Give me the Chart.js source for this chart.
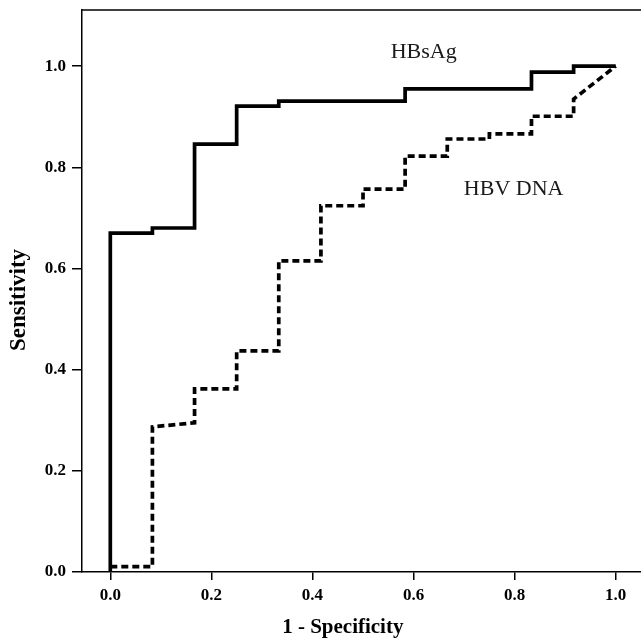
<!DOCTYPE html>
<html>
<head>
<meta charset="utf-8">
<script src="https://cdn.jsdelivr.net/npm/chart.js@4"></script>
<style>
    html, body { margin: 0; padding: 0; background: #fff; }
    #wrap { width: 641px; height: 640px; }
</style>
</head>
<body>
<div id="wrap"><canvas id="rocChart"></canvas></div>
<script>
// ROC curve data (1 - specificity vs sensitivity)
const hbsagFpr = [0, 0, 0.0833, 0.0833, 0.1667, 0.1667, 0.25, 0.25, 0.3333, 0.3333, 0.5833, 0.5833, 0.8333, 0.8333, 0.9167, 0.9167, 1.0];
const hbsagTpr = [0, 0.670, 0.670, 0.680, 0.680, 0.846, 0.846, 0.921, 0.921, 0.931, 0.931, 0.955, 0.955, 0.988, 0.988, 1.0, 1.0];

const hbvFpr = [0, 0.0833, 0.0833, 0.1667, 0.1667, 0.25, 0.25, 0.3333, 0.3333, 0.4167, 0.4167, 0.5, 0.5, 0.5833, 0.5833, 0.6667, 0.6667, 0.75, 0.75, 0.8333, 0.8333, 0.9167, 0.9167, 1.0];
const hbvTpr = [0.0105, 0.0105, 0.287, 0.295, 0.362, 0.362, 0.437, 0.437, 0.615, 0.615, 0.724, 0.724, 0.757, 0.757, 0.822, 0.822, 0.856, 0.856, 0.866, 0.866, 0.901, 0.901, 0.935, 1.0];

const xTicks = [0, 0.2, 0.4, 0.6, 0.8, 1.0];
const yTicks = [0, 0.2, 0.4, 0.6, 0.8, 1.0];

const seriesLabels = ['HBsAg', 'HBV DNA'];
// where each curve's name is written, in data units
const labelSpots = [{ x: 0.62, y: 1.016 }, { x: 0.798, y: 0.745 }];

const xTitle = '1 - Specificity';
const yTitle = 'Sensitivity';

const serif = "'Liberation Serif', 'Times New Roman', serif";

function toPoints(xs, ys) {
    return xs.map((x, i) => ({ x: x, y: ys[i] }));
}

// box line along the top of the plot area
const topLine = {
    id: 'topLine',
    afterDraw(chart) {
        const { ctx, chartArea } = chart;
        ctx.save();
        ctx.strokeStyle = '#000';
        ctx.lineWidth = 1.5;
        ctx.beginPath();
        ctx.moveTo(chartArea.left, chartArea.top);
        ctx.lineTo(chartArea.right, chartArea.top);
        ctx.stroke();
        ctx.restore();
    }
};

// curve names and axis titles
const chartText = {
    id: 'chartText',
    afterDatasetsDraw(chart) {
        const { ctx, scales, chartArea } = chart;
        ctx.save();
        ctx.fillStyle = '#1a1a1a';
        ctx.font = '22px ' + serif;
        ctx.textAlign = 'center';
        ctx.textBaseline = 'alphabetic';
        seriesLabels.forEach((name, i) => {
            const px = scales.x.getPixelForValue(labelSpots[i].x);
            const py = scales.y.getPixelForValue(labelSpots[i].y);
            ctx.fillText(name, px, py);
        });

        ctx.fillStyle = '#000';
        ctx.font = 'bold 21px ' + serif;
        ctx.textBaseline = 'middle';
        ctx.fillText(xTitle, scales.x.getPixelForValue(0.46), 628);

        ctx.translate(19, (chartArea.top + chartArea.bottom) / 2 + 9);
        ctx.rotate(-Math.PI / 2);
        ctx.font = 'bold 23px ' + serif;
        ctx.fillText(yTitle, 0, 0);
        ctx.restore();
    }
};

new Chart(document.getElementById('rocChart'), {
    type: 'scatter',
    data: {
        datasets: [
            {
                label: seriesLabels[0],
                data: toPoints(hbsagFpr, hbsagTpr),
                showLine: true,
                borderColor: '#000',
                borderWidth: 3.7,
                pointRadius: 0,
                fill: false
            },
            {
                label: seriesLabels[1],
                data: toPoints(hbvFpr, hbvTpr),
                showLine: true,
                borderColor: '#000',
                borderWidth: 3.7,
                borderDash: [7, 4],
                pointRadius: 0,
                fill: false
            }
        ]
    },
    options: {
        responsive: true,
        maintainAspectRatio: false,
        animation: false,
        layout: { padding: { top: 10, right: 0, bottom: 0, left: 0 } },
        plugins: {
            legend: { display: false },
            tooltip: { enabled: false }
        },
        scales: {
            x: {
                type: 'linear',
                min: -0.056,
                max: 1.05,
                afterBuildTicks: s => { s.ticks = xTicks.map(v => ({ value: v })); },
                afterFit: s => { s.height = 68; s.paddingLeft = 0; s.paddingRight = 0; },
                grid: { drawOnChartArea: false, drawTicks: true, tickLength: 8, color: '#000', lineWidth: 1.5 },
                border: { display: true, color: '#000', width: 1.5 },
                ticks: {
                    color: '#000',
                    padding: 5,
                    maxRotation: 0,
                    font: { family: serif, size: 17, weight: 'bold' },
                    callback: v => Number(v).toFixed(1)
                }
            },
            y: {
                type: 'linear',
                min: 0,
                max: 1.111,
                afterBuildTicks: s => { s.ticks = yTicks.map(v => ({ value: v })); },
                afterFit: s => { s.width = 82; s.paddingTop = 0; s.paddingBottom = 0; },
                grid: { drawOnChartArea: false, drawTicks: true, tickLength: 10, color: '#000', lineWidth: 1.5 },
                border: { display: true, color: '#000', width: 1.5 },
                ticks: {
                    color: '#000',
                    padding: 6,
                    font: { family: serif, size: 17, weight: 'bold' },
                    callback: v => Number(v).toFixed(1)
                }
            }
        }
    },
    plugins: [topLine, chartText]
});
</script>
</body>
</html>
